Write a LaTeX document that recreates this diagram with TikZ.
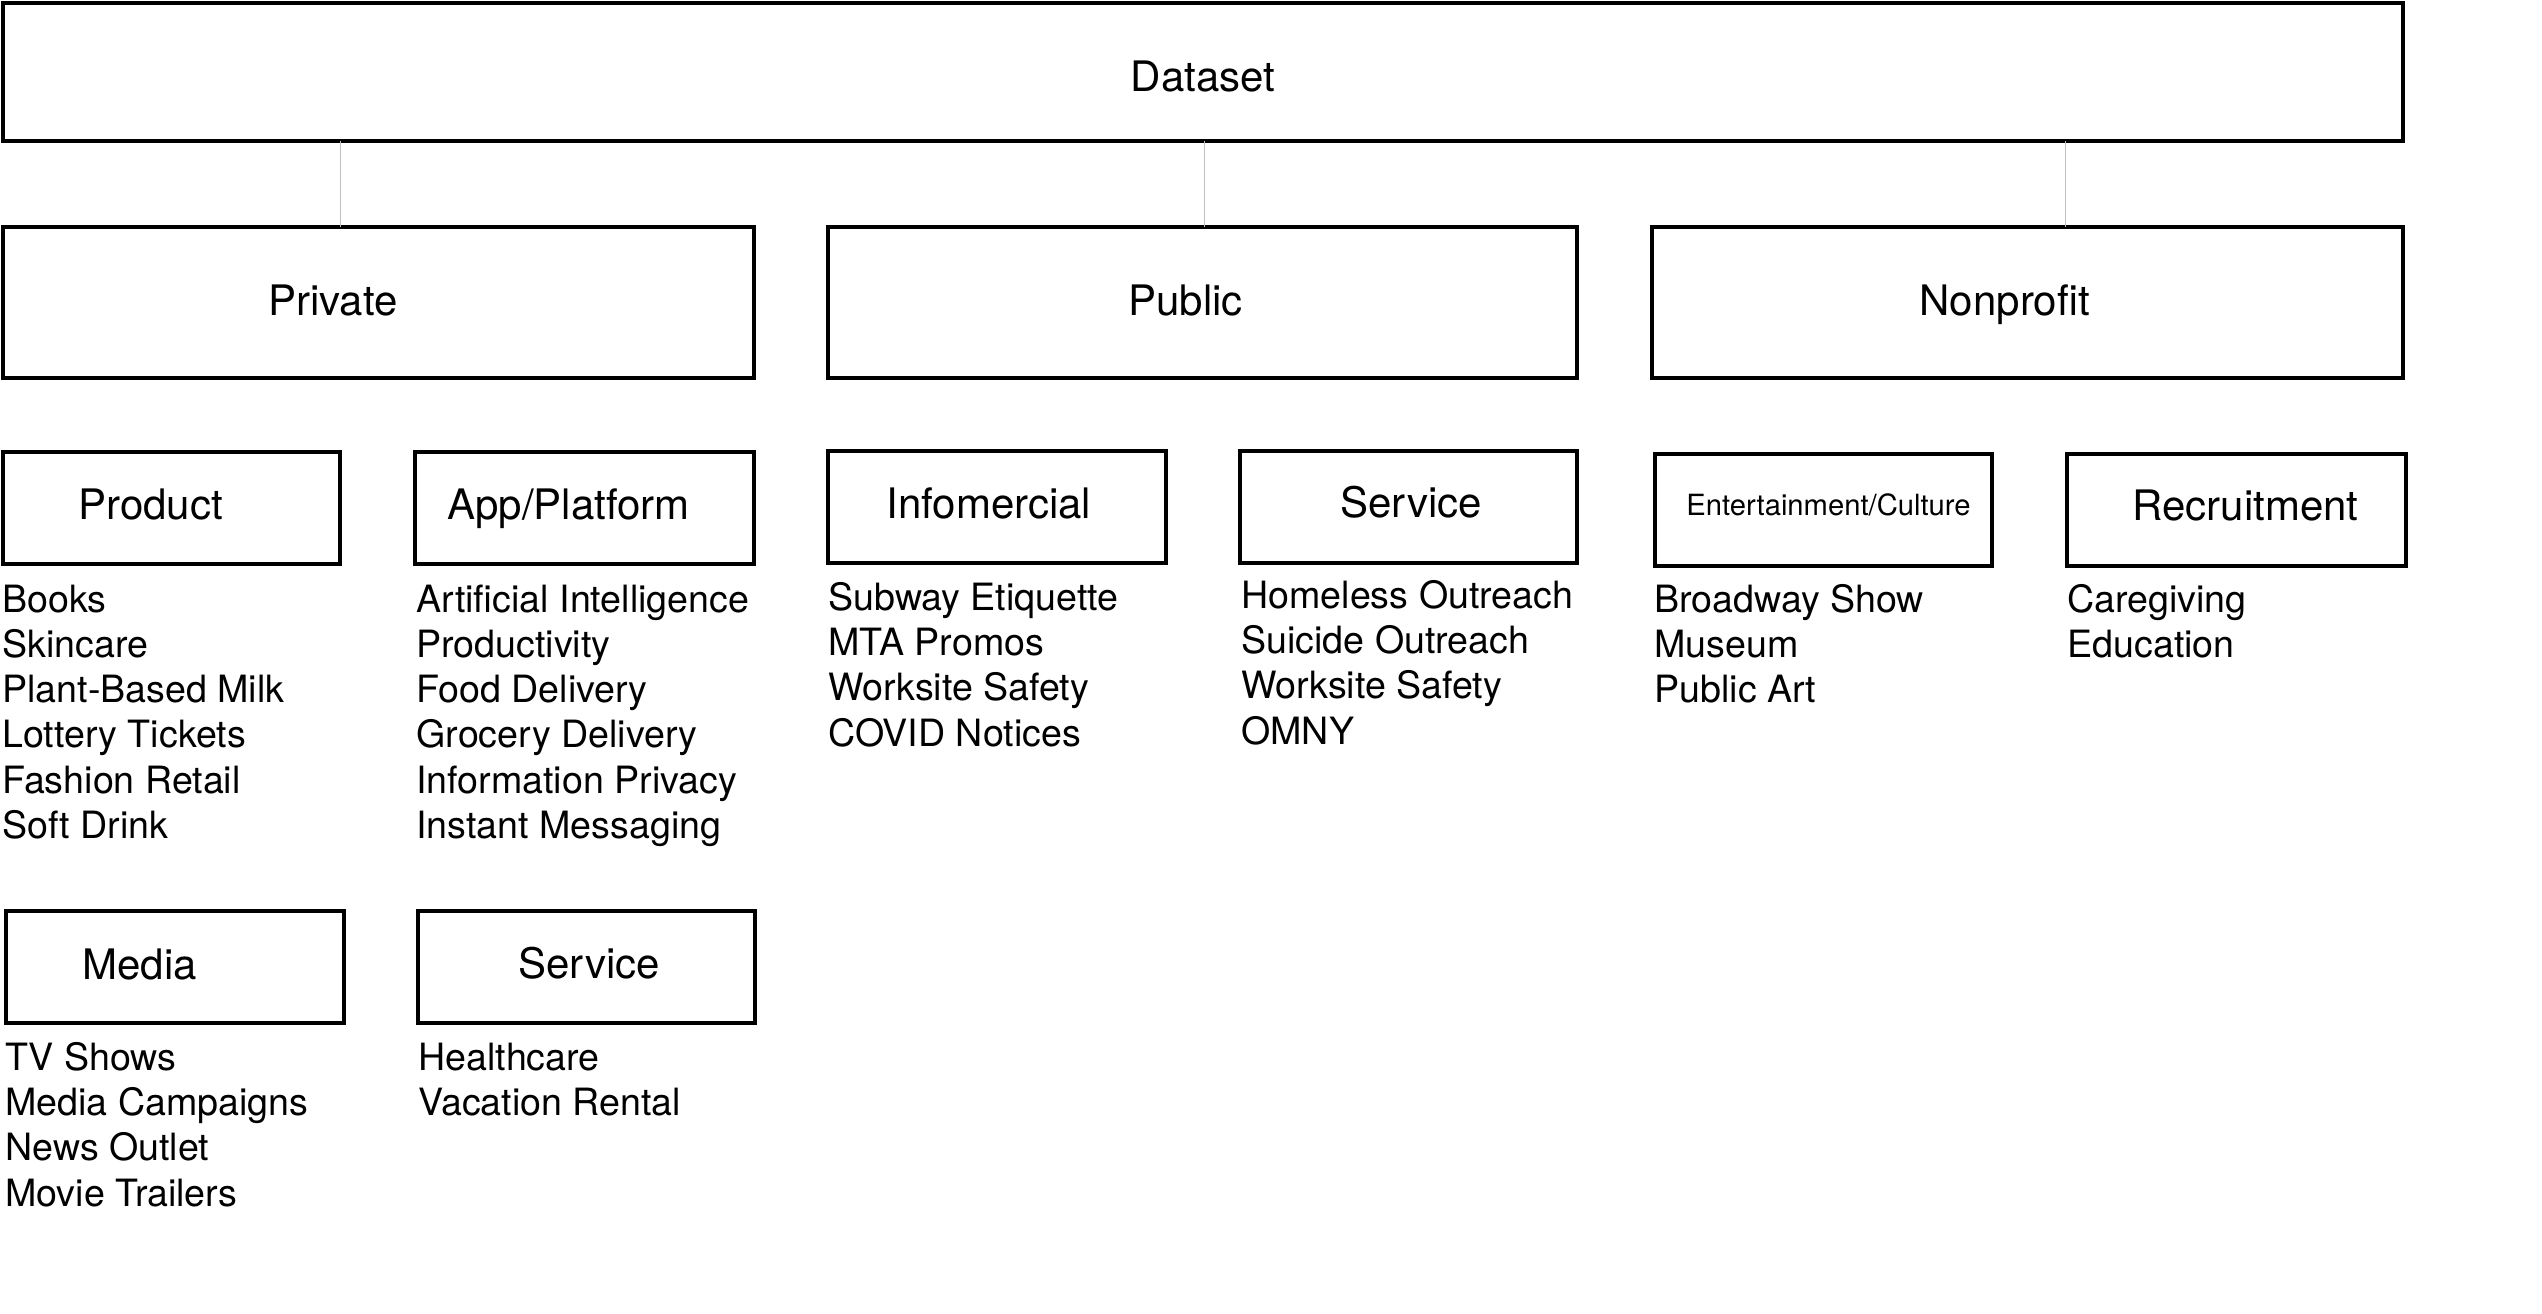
\documentclass[tikz,border=0pt]{standalone}
\usepackage{fontspec}
\setmainfont{TeX Gyre Heros}
\usetikzlibrary{fit}
\begin{document}
\begin{tikzpicture}[x=0.5pt,y=-0.5pt,
  box/.style={draw=black,line width=1.6pt,inner sep=0pt,outer sep=0pt,rectangle},
  conn/.style={draw=black!25,line width=0.5pt},
  head/.style={inner sep=0pt,anchor=base west,font=\fontsize{21}{24}\selectfont},
  small/.style={inner sep=0pt,anchor=base west,font=\fontsize{14.6}{17}\selectfont},
  items/.style={inner sep=0pt,anchor=base west,align=left,font=\fontsize{18.8}{22.65}\selectfont}]
\useasboundingbox (0,0) rectangle (2542,1313);
\fill[white] (0,0) rectangle (2542,1313);
% boxes
\path (3,3) coordinate (d1) (2403,141) coordinate (d2);
\node[box,fit=(d1)(d2)] (dataset) {};
\path (3,227) coordinate (p1) (754,378) coordinate (p2);
\node[box,fit=(p1)(p2)] (private) {};
\path (828,227) coordinate (u1) (1577,378) coordinate (u2);
\node[box,fit=(u1)(u2)] (public) {};
\path (1652,227) coordinate (n1) (2403,378) coordinate (n2);
\node[box,fit=(n1)(n2)] (nonprofit) {};
\path (3,452) coordinate (a1) (340,564) coordinate (a2);
\node[box,fit=(a1)(a2)] (product) {};
\path (415,452) coordinate (b1) (754,564) coordinate (b2);
\node[box,fit=(b1)(b2)] (app) {};
\path (828,451) coordinate (c1) (1166,563) coordinate (c2);
\node[box,fit=(c1)(c2)] (info) {};
\path (1240,451) coordinate (e1) (1577,563) coordinate (e2);
\node[box,fit=(e1)(e2)] (pubservice) {};
\path (1655,454) coordinate (f1) (1992,566) coordinate (f2);
\node[box,fit=(f1)(f2)] (ent) {};
\path (2067,454) coordinate (g1) (2406,566) coordinate (g2);
\node[box,fit=(g1)(g2)] (recruit) {};
\path (6,911) coordinate (h1) (344,1023) coordinate (h2);
\node[box,fit=(h1)(h2)] (media) {};
\path (418,911) coordinate (i1) (755,1023) coordinate (i2);
\node[box,fit=(i1)(i2)] (privservice) {};
% connectors
\coordinate (k1) at (340,0);
\coordinate (k2) at (1204,0);
\coordinate (k3) at (2065,0);
\draw[conn] (dataset.south -| k1) -- (private.north -| k1);
\draw[conn] (dataset.south -| k2) -- (public.north -| k2);
\draw[conn] (dataset.south -| k3) -- (nonprofit.north -| k3);
% labels
\node[head,anchor=base] (datasett) at (1203,91) {Dataset};
\node[head] (privatet) at (268,315) {Private};
\node[head] (publict) at (1128,315) {Public};
\node[head] (nonprofitt) at (1919,315) {Nonprofit};
\node[head] (productt) at (78,519) {Product};
\node[head] (appt) at (447,519) {App/Platform};
\node[head] (infot) at (886,518) {Infomercial};
\node[head] (pubservicet) at (1340,517) {Service};
\node[small] (entt) at (1686,515) {Entertainment/Culture};
\node[head] (recruitt) at (2132,520) {Recruitment};
\node[head] (mediat) at (82,979) {Media};
\node[head] (privservicet) at (518,978) {Service};
% lists (anchored at the baseline of their last line)
\node[items] (productl) at (2,838.5) {Books\\Skincare\\Plant-Based Milk\\Lottery Tickets\\Fashion Retail\\Soft Drink};
\node[items] (appl) at (416,838.5) {Artificial Intelligence\\Productivity\\Food Delivery\\Grocery Delivery\\Information Privacy\\Instant Messaging};
\node[items] (infol) at (828,746) {Subway Etiquette\\MTA Promos\\Worksite Safety\\COVID Notices};
\node[items] (pubservicel) at (1241,744) {Homeless Outreach\\Suicide Outreach\\Worksite Safety\\OMNY};
\node[items] (entl) at (1654,702.6) {Broadway Show\\Museum\\Public Art};
\node[items] (recruitl) at (2067,657.3) {Caregiving\\Education};
\node[items] (medial) at (5,1206) {TV Shows\\Media Campaigns\\News Outlet\\Movie Trailers};
\node[items] (privservicel) at (418,1115.3) {Healthcare\\Vacation Rental};
\end{tikzpicture}
\end{document}
